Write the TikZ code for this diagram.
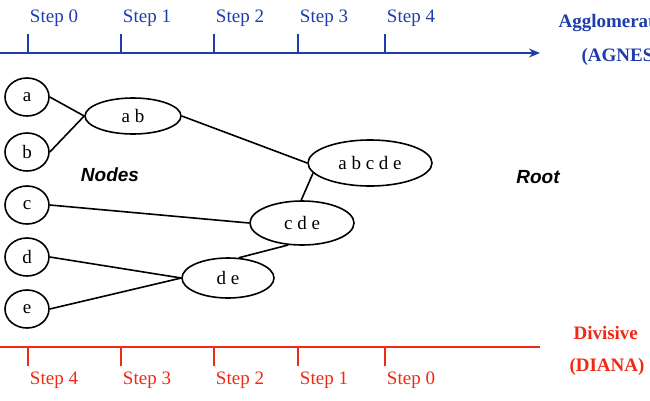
\documentclass[tikz,border=0pt]{standalone}
\usepackage{fontspec}
\setmainfont{Liberation Serif}
\newfontfamily\labsans{Liberation Sans}
\usetikzlibrary{shapes.geometric,arrows.meta}
\definecolor{ablue}{RGB}{30,60,170}
\definecolor{ared}{RGB}{240,40,20}
\tikzset{
  nd/.style={draw,ellipse,line width=1.6pt,inner sep=0pt,font=\fontsize{19}{20}\selectfont},
  cn/.style={line width=1.6pt},
  tickb/.style={ablue,line width=1.6pt},
  tickr/.style={ared,line width=1.6pt},
  stb/.style={ablue,font=\fontsize{19}{20}\selectfont},
  str/.style={ared,font=\fontsize{19}{20}\selectfont},
}
\begin{document}
\begin{tikzpicture}[x=1pt,y=-1pt]
\useasboundingbox (0,0) rectangle (650,400);
% top axis
\coordinate (tl) at (0,53); \coordinate (tr) at (540,53);
\draw[ablue,line width=1.6pt,-{Stealth[length=11pt,width=9pt]}] (tl) -- (tr);
\foreach \x/\s [count=\i] in {28/0,121/1,214/2,298/3,385/4}{
  \draw[tickb] (\x,53) -- (\x,34);
  \node[stb] (ts\i) at (\x+26,18) {Step \s};
}
\node[ablue,font=\fontsize{19}{20}\selectfont\bfseries,anchor=west] (ag) at (555,23) {Agglomerative};
\node[ablue,font=\fontsize{19}{20}\selectfont\bfseries,anchor=west] (agn) at (578,57) {(AGNES)};
% bottom axis
\coordinate (bl) at (0,347); \coordinate (br) at (540,347);
\draw[ared,line width=1.6pt] (bl) -- (br);
\foreach \x/\s [count=\i] in {28/4,121/3,214/2,298/1,385/0}{
  \draw[tickr] (\x,347) -- (\x,366);
  \node[str] (bs\i) at (\x+26,380) {Step \s};
}
\node[ared,font=\fontsize{19}{20}\selectfont\bfseries,anchor=west] (dv) at (570,333) {Divisive};
\node[ared,font=\fontsize{19}{20}\selectfont\bfseries,anchor=west] (dn) at (566,367) {(DIANA)};
% nodes
\node[nd,minimum width=44pt,minimum height=38pt] (a) at (27,97) {a};
\node[nd,minimum width=44pt,minimum height=38pt] (b) at (27,152) {b};
\node[nd,minimum width=44pt,minimum height=38pt] (c) at (27,205) {c};
\node[nd,minimum width=44pt,minimum height=38pt] (d) at (27,257) {d};
\node[nd,minimum width=44pt,minimum height=38pt] (e) at (27,309) {e};
\node[nd,minimum width=96pt,minimum height=36pt] (ab) at (133,116) {a b};
\node[nd,minimum width=124pt,minimum height=46pt] (abcde) at (370,163) {a b c d e};
\node[nd,minimum width=104pt,minimum height=44pt] (cde) at (302,223) {c d e};
\node[nd,minimum width=92pt,minimum height=40pt] (de) at (228,278) {d e};
\node[font=\labsans\fontsize{19}{20}\selectfont\bfseries\itshape] (nodes) at (110,175) {Nodes};
\node[font=\labsans\fontsize{19}{20}\selectfont\bfseries\itshape] (root) at (538,177) {Root};
% connectors
\draw[cn] (a.east) -- (ab.west);
\draw[cn] (b.east) -- (ab.west);
\draw[cn] (ab.east) -- (abcde.180);
\draw[cn] (c.east) -- (cde.west);
\draw[cn] (cde.92) -- (abcde.190);
\draw[cn] (d.east) -- (de.west);
\draw[cn] (e.east) -- (de.west);
\draw[cn] (de.62) -- (cde.238);
\end{tikzpicture}
\end{document}
